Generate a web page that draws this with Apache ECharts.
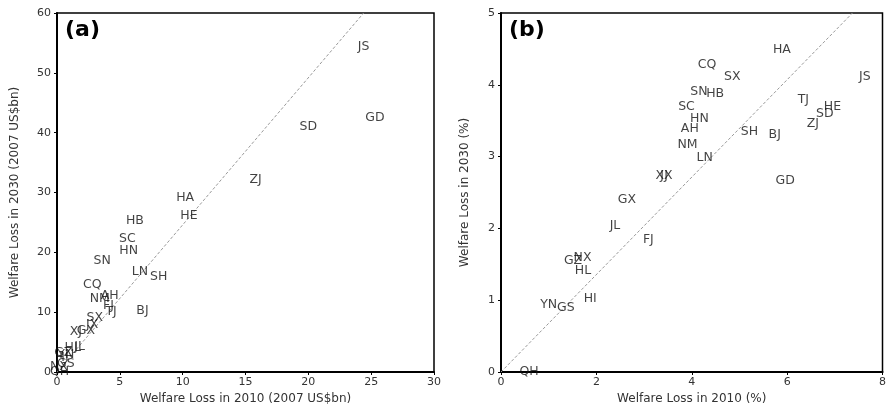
<!DOCTYPE html>
<html>
<head>
<meta charset="utf-8">
<script src="https://cdn.jsdelivr.net/npm/echarts@6/dist/echarts.min.js"></script>
<style>
  html, body { margin: 0; padding: 0; background: #fff; }
  #main { width: 889px; height: 415px; }
</style>
</head>
<body>
<div id="main"></div>
<script>
// (a) welfare loss, 2007 US$bn
const provA = ['JS', 'GD', 'SD', 'ZJ', 'HA', 'HE', 'HB', 'SC', 'HN', 'SN', 'LN', 'SH', 'CQ', 'AH', 'NM', 'FJ', 'TJ', 'BJ',
    'SX', 'JX', 'GX', 'XJ', 'HL', 'JL', 'GZ', 'YN', 'HI', 'GS', 'NX', 'QH'];
const loss2010A = [24.4, 25.3, 20.0, 15.8, 10.2, 10.5, 6.2, 5.6, 5.7, 3.6, 6.6, 8.1, 2.8, 4.2, 3.4, 4.1, 4.3, 6.8,
    3.0, 2.8, 2.3, 1.5, 1.25, 1.8, 0.5, 0.7, 0.4, 0.7, 0.15, 0.2];
const loss2030A = [54.3, 42.5, 41.0, 32.2, 29.1, 26.1, 25.3, 22.2, 20.3, 18.6, 16.8, 15.9, 14.6, 12.8, 12.2, 11.1, 10.0, 10.3,
    9.0, 7.9, 6.9, 6.8, 4.1, 4.3, 3.3, 2.8, 2.4, 1.3, 0.9, 0.05];

// (b) welfare loss, %
const provB = ['HA', 'CQ', 'SX', 'JS', 'SN', 'HB', 'SC', 'TJ', 'HE', 'SD', 'ZJ', 'HN', 'AH', 'SH', 'BJ', 'NM', 'LN',
    'XJ', 'JX', 'GD', 'GX', 'JL', 'FJ', 'NX', 'GZ', 'HL', 'HI', 'YN', 'GS', 'QH'];
const loss2010B = [5.89, 4.32, 4.85, 7.63, 4.15, 4.49, 3.89, 6.34, 6.95, 6.79, 6.54, 4.16, 3.96, 5.21, 5.74, 3.91, 4.27,
    3.37, 3.47, 5.96, 2.64, 2.39, 3.09, 1.71, 1.51, 1.72, 1.87, 1.00, 1.36, 0.59];
const loss2030B = [4.49, 4.28, 4.11, 4.11, 3.91, 3.88, 3.69, 3.79, 3.70, 3.59, 3.46, 3.53, 3.39, 3.34, 3.31, 3.17, 2.99,
    2.74, 2.74, 2.67, 2.40, 2.03, 1.84, 1.59, 1.55, 1.41, 1.02, 0.94, 0.89, 0.01];

// reference diagonals
const diagA = [[0, 0], [24.4, 60]];
const diagB = [[0, 0], [7.37, 5]];

const FONT = 'DejaVu Sans';
const pts = (names, xs, ys) => names.map((n, i) => ({ name: n, value: [xs[i], ys[i]] }));

function axisX(idx, max, interval, name) {
    return {
        type: 'value', gridIndex: idx, min: 0, max: max, interval: interval,
        name: name, nameLocation: 'middle', nameGap: 21,
        nameTextStyle: { fontFamily: FONT, fontSize: 12, color: '#333' },
        axisLine: { show: true, lineStyle: { color: '#000', width: 2 } },
        axisTick: { show: true, length: 3, lineStyle: { color: '#000' } },
        axisLabel: { fontFamily: FONT, fontSize: 11, color: '#333', margin: 5 },
        splitLine: { show: false },
    };
}
function axisY(idx, max, interval, name, gap) {
    return {
        type: 'value', gridIndex: idx, min: 0, max: max, interval: interval,
        name: name, nameLocation: 'middle', nameGap: gap,
        nameTextStyle: { fontFamily: FONT, fontSize: 12, color: '#333' },
        axisLine: { show: true, lineStyle: { color: '#000', width: 2 } },
        axisTick: { show: true, length: 3, lineStyle: { color: '#000' } },
        axisLabel: { fontFamily: FONT, fontSize: 11, color: '#333', margin: 6 },
        splitLine: { show: false },
    };
}
function labels(idx, data) {
    return {
        type: 'scatter', xAxisIndex: idx, yAxisIndex: idx, data: data,
        symbolSize: 1, itemStyle: { color: 'rgba(0,0,0,0)' },
        label: {
            show: true, position: 'inside', formatter: '{b}',
            fontFamily: FONT, fontSize: 12.5, color: '#111',
        },
        silent: true, z: 3,
    };
}
function diag(idx, data) {
    return {
        type: 'line', xAxisIndex: idx, yAxisIndex: idx, data: data,
        symbol: 'none', silent: true,
        lineStyle: { color: '#999', width: 1, type: [3, 2] },
    };
}

const chart = echarts.init(document.getElementById('main'));
chart.setOption({
    animation: false,
    grid: [
        { left: 57, right: 455, top: 13, bottom: 43, show: true, borderColor: '#000', borderWidth: 1.5 },
        { left: 501, right: 5, top: 13, bottom: 43, show: true, borderColor: '#000', borderWidth: 1.5 },
    ],
    xAxis: [
        axisX(0, 30, 5, 'Welfare Loss in 2010 (2007 US$bn)'),
        axisX(1, 8, 2, 'Welfare Loss in 2010 (%)'),
    ],
    yAxis: [
        axisY(0, 60, 10, 'Welfare Loss in 2030 (2007 US$bn)', 36),
        axisY(1, 5, 1, 'Welfare Loss in 2030 (%)', 30),
    ],
    graphic: [
        { type: 'text', left: 65, top: 19, style: { text: '(a)', font: 'bold 22px "DejaVu Sans"', fill: '#000' } },
        { type: 'text', left: 509, top: 19, style: { text: '(b)', font: 'bold 22px "DejaVu Sans"', fill: '#000' } },
    ],
    series: [
        diag(0, diagA),
        diag(1, diagB),
        labels(0, pts(provA, loss2010A, loss2030A)),
        labels(1, pts(provB, loss2010B, loss2030B)),
    ],
});
</script>
</body>
</html>
